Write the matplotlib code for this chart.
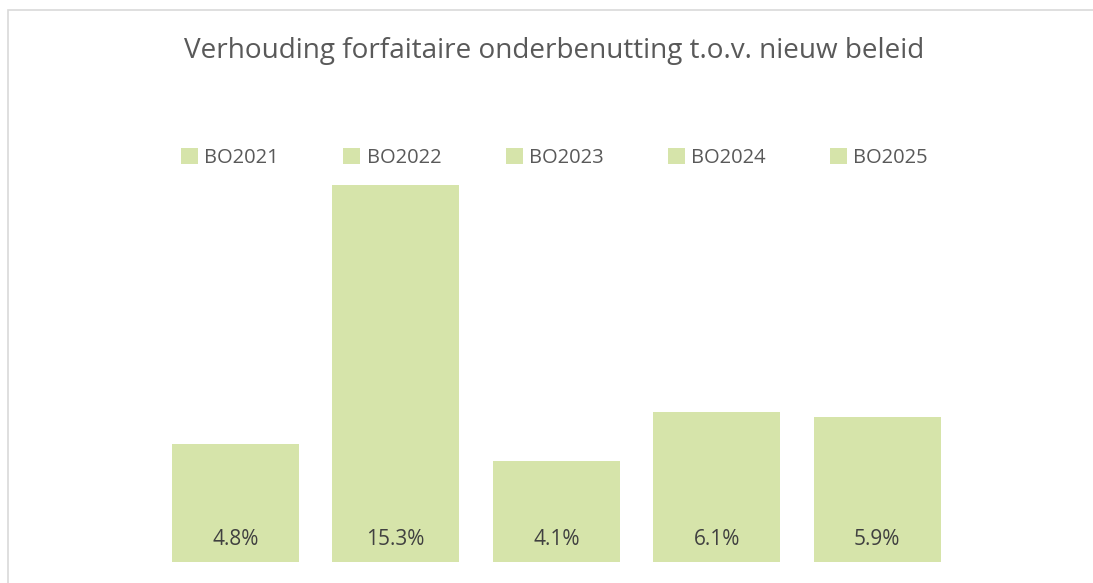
import matplotlib.pyplot as plt
from matplotlib.patches import Rectangle

series = ["BO2021", "BO2022", "BO2023", "BO2024", "BO2025"]
values = [4.8, 15.3, 4.1, 6.1, 5.9]
labels = ["4.8%", "15.3%", "4.1%", "6.1%", "5.9%"]

bar_color = "#D6E4AA"
text_gray = "#595959"

plt.rcParams["font.family"] = ["Open Sans", "DejaVu Sans"]

W, H = 1093, 583
fig = plt.figure(figsize=(W / 100, H / 100), dpi=100)

# chart frame
fig.patches.append(Rectangle((8 / W, -0.1), 1.2, 1.1 - 10 / H, transform=fig.transFigure,
                             fill=False, edgecolor="#D9D9D9", linewidth=1.2))

ax = fig.add_axes([155 / W, 21 / H, 802.5 / W, 394 / H])
for i, (name, v, lab) in enumerate(zip(series, values, labels)):
    ax.bar(i, v, width=0.79, color=bar_color, label=name)
    ax.text(i, 0.93, lab, ha="center", va="center", fontsize=15, color="#404040")

ax.set_xlim(-0.5, 4.5)
ax.set_ylim(0, 16)
ax.axis("off")

fig.text(554 / W, 1 - 51 / H, "Verhouding forfaitaire onderbenutting t.o.v. nieuw beleid",
         ha="center", va="center", fontsize=20.1, color=text_gray)

fig.legend(loc="center", bbox_to_anchor=(554.5 / W, 1 - 158 / H), ncol=5, frameon=False,
           fontsize=14.5, labelcolor=text_gray, handlelength=0.85, handleheight=0.85,
           handletextpad=0.3, columnspacing=3.2)

fig.savefig("out.png", dpi=100)
